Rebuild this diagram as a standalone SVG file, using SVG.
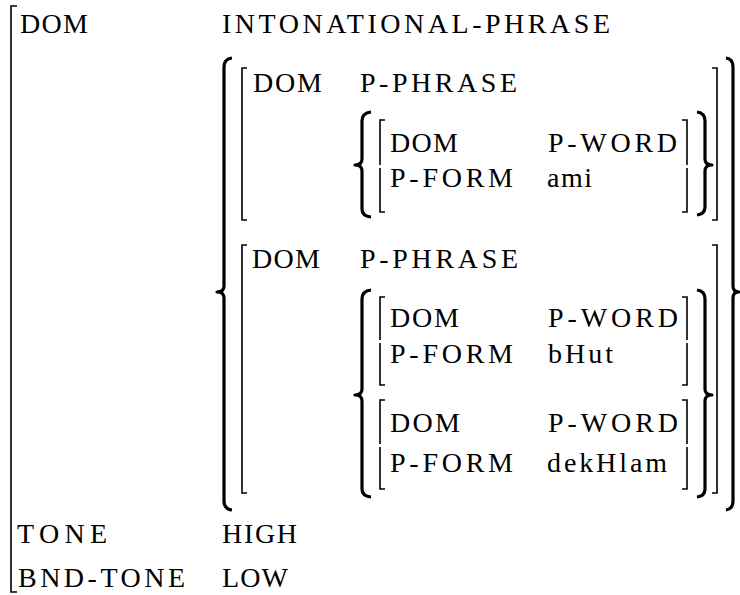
<svg xmlns="http://www.w3.org/2000/svg" width="740" height="595" viewBox="0 0 740 595">
<defs>
<style>
.br{fill:none;stroke:#000;stroke-width:1.6}
.bc{fill:none;stroke:#000;stroke-width:3.2;stroke-linejoin:round}
</style>
</defs>
<rect width="740" height="595" fill="#fff"/>
<g id="outer">
<path class="br" d="M17,6 H11 V592 H17"/>
<text x="20" y="33" font-family="Liberation Serif" font-size="28" style="font-family:'Liberation Serif',serif" textLength="68" lengthAdjust="spacing">DOM</text>
<text x="222" y="33" font-family="Liberation Serif" font-size="28" style="font-family:'Liberation Serif',serif" textLength="388" lengthAdjust="spacing">INTONATIONAL-PHRASE</text>
<text x="17" y="543" font-family="Liberation Serif" font-size="28" style="font-family:'Liberation Serif',serif" textLength="90" lengthAdjust="spacing">TONE</text>
<text x="222" y="543" font-family="Liberation Serif" font-size="28" style="font-family:'Liberation Serif',serif" textLength="75" lengthAdjust="spacing">HIGH</text>
<text x="18" y="587" font-family="Liberation Serif" font-size="28" style="font-family:'Liberation Serif',serif" textLength="167" lengthAdjust="spacing">BND-TONE</text>
<text x="222" y="587" font-family="Liberation Serif" font-size="28" style="font-family:'Liberation Serif',serif" textLength="66" lengthAdjust="spacing">LOW</text>
</g>
<g id="set-outer">
<path class="bc" d="M232,58 Q224,59 224,67 V286 Q224,292 217,292 Q224,292 224,298 V501 Q224,509 232,510"/>
<path class="bc" d="M726,58 Q733,59 733,67 V286 Q733,292 739,292 Q733,292 733,298 V501 Q733,509 726,510"/>
</g>
<g id="pphrase1">
<path class="br" d="M247,68 H242 V220 H247"/>
<path class="br" d="M712,68 H717 V220 H712"/>
<text x="253" y="92" font-family="Liberation Serif" font-size="28" style="font-family:'Liberation Serif',serif" textLength="69" lengthAdjust="spacing">DOM</text>
<text x="360" y="92" font-family="Liberation Serif" font-size="28" style="font-family:'Liberation Serif',serif" textLength="157" lengthAdjust="spacing">P-PHRASE</text>
<path class="bc" d="M371,112 Q362,113 362,121 V159 Q362,165 355,165 Q362,165 362,171 V209 Q362,216 371,217"/>
<path class="bc" d="M697,112 Q705,113 705,121 V159 Q705,165 712,165 Q705,165 705,171 V207 Q705,214 697,215"/>
</g>
<g id="pword-ami">
<path class="br" d="M385,120 H380 V165 M380,168 V212 H385"/>
<path class="br" d="M682,120 H687 V165 M687,168 V212 H682"/>
<text x="390" y="152" font-family="Liberation Serif" font-size="28" style="font-family:'Liberation Serif',serif" textLength="68" lengthAdjust="spacing">DOM</text>
<text x="548" y="152" font-family="Liberation Serif" font-size="28" style="font-family:'Liberation Serif',serif" textLength="129" lengthAdjust="spacing">P-WORD</text>
<text x="390" y="187" font-family="Liberation Serif" font-size="28" style="font-family:'Liberation Serif',serif" textLength="123" lengthAdjust="spacing">P-FORM</text>
<text x="547" y="187" font-family="Liberation Serif" font-size="28" style="font-family:'Liberation Serif',serif" textLength="45" lengthAdjust="spacing">ami</text>
</g>
<g id="pphrase2">
<path class="br" d="M247,245 H242 V493 H247"/>
<path class="br" d="M712,245 H717 V493 H712"/>
<text x="252" y="268" font-family="Liberation Serif" font-size="28" style="font-family:'Liberation Serif',serif" textLength="68" lengthAdjust="spacing">DOM</text>
<text x="360" y="268" font-family="Liberation Serif" font-size="28" style="font-family:'Liberation Serif',serif" textLength="158" lengthAdjust="spacing">P-PHRASE</text>
<path class="bc" d="M371,290 Q362,291 362,299 V389 Q362,395 355,395 Q362,395 362,401 V489 Q362,496 371,497"/>
<path class="bc" d="M697,290 Q705,291 705,299 V389 Q705,395 712,395 Q705,395 705,401 V489 Q705,496 697,497"/>
</g>
<g id="pword-bHut">
<path class="br" d="M385,297 H380 V340 M380,343 V385 H385"/>
<path class="br" d="M682,297 H687 V340 M687,343 V385 H682"/>
<text x="390" y="327" font-family="Liberation Serif" font-size="28" style="font-family:'Liberation Serif',serif" textLength="69" lengthAdjust="spacing">DOM</text>
<text x="548" y="327" font-family="Liberation Serif" font-size="28" style="font-family:'Liberation Serif',serif" textLength="130" lengthAdjust="spacing">P-WORD</text>
<text x="390" y="363" font-family="Liberation Serif" font-size="28" style="font-family:'Liberation Serif',serif" textLength="123" lengthAdjust="spacing">P-FORM</text>
<text x="548" y="363" font-family="Liberation Serif" font-size="28" style="font-family:'Liberation Serif',serif" textLength="65" lengthAdjust="spacing">bHut</text>
</g>
<g id="pword-dekHlam">
<path class="br" d="M385,400 H380 V444 M380,447 V489 H385"/>
<path class="br" d="M682,400 H687 V444 M687,447 V489 H682"/>
<text x="390" y="432" font-family="Liberation Serif" font-size="28" style="font-family:'Liberation Serif',serif" textLength="70" lengthAdjust="spacing">DOM</text>
<text x="548" y="432" font-family="Liberation Serif" font-size="28" style="font-family:'Liberation Serif',serif" textLength="130" lengthAdjust="spacing">P-WORD</text>
<text x="390" y="472" font-family="Liberation Serif" font-size="28" style="font-family:'Liberation Serif',serif" textLength="123" lengthAdjust="spacing">P-FORM</text>
<text x="547" y="472" font-family="Liberation Serif" font-size="28" style="font-family:'Liberation Serif',serif" textLength="120" lengthAdjust="spacing">dekHlam</text>
</g>
<g id="connectors"></g>
</svg>
